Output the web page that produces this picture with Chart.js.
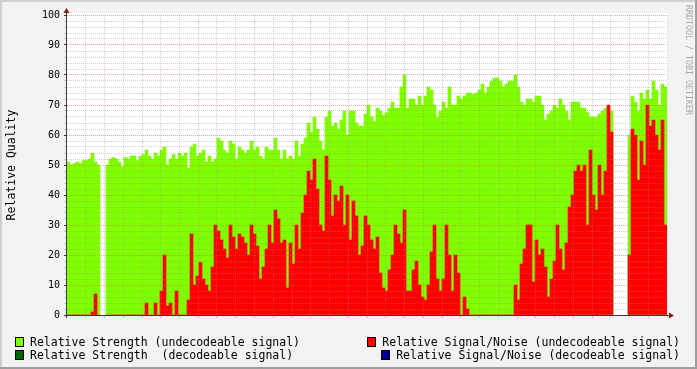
<!DOCTYPE html>
<html>
<head>
<meta charset="utf-8">
<script src="https://cdn.jsdelivr.net/npm/chart.js@4"></script>
<style>
body { margin: 0; background: #fff; }
#wrap { position: relative; width: 697px; height: 369px; }
.lg { position: absolute; font: 11.5px 'DejaVu Sans Mono', monospace; line-height: 14px; white-space: pre; color: #000; display: flex; align-items: center; }
.lg i { display: inline-block; width: 7px; height: 8px; border: 1px solid #000; margin-right: 6px; }
</style>
</head>
<body>
<div id="wrap">
  <canvas id="chart" width="697" height="369"></canvas>
  <div class="lg" style="left:15px;top:335px"><i style="background:#7FFF00"></i>Relative Strength (undecodeable signal)</div>
  <div class="lg" style="left:15px;top:348px"><i style="background:#006600"></i>Relative Strength  (decodeable signal)</div>
  <div class="lg" style="right:17px;top:335px"><i style="background:#FF0000"></i>Relative Signal/Noise (undecodeable signal)</div>
  <div class="lg" style="right:17px;top:348px"><i style="background:#000099"></i>Relative Signal/Noise (decodeable signal)</div>
</div>
<script>
// time axis in hours from Sun 00:00, one sample every 9.6 minutes
const START = 3 + 40 / 60;
const END = 35 + 40 / 60;
const STEP = 0.16;

// Relative Strength (undecodeable signal)
const strength = [
  51, 50, 50.5, 51, 50.5, 51.5, 51.5, 52, 54, 51,
  50, null, null, 50, 52, 52.5, 52, 51, 49.5, 52.5,
  52, 53, 53, 51.5, 53, 53.5, 55, 53, 52, 54,
  53, 55, 56, 50, 52, 53.5, 52, 54, 53, 54,
  49, 56, 57, 53, 54, 55, 51, 53, 51, 52,
  59, 58, 55, 54, 58, 57, 52, 56, 55, 54,
  55, 58, 55, 56, 53, 52, 56, 55, 55, 59,
  55, 52, 55, 52, 53, 52, 58, 53, 57, 59,
  64, 61, 66, 62, 58, 55, 66, 68, 63, 64,
  62, 65, 68, 60, 68, 68, 64, 63, 63, 67,
  70, 66, 64.5, 69, 68, 66.5, 67.5, 69, 71, 69,
  69, 76, 80, 69, 72, 72, 70, 73, 70, 73,
  76, 75, 70, 66, 68, 71, 69, 76, 70, 70,
  73, 72, 73, 74, 74, 73.5, 74, 75, 77, 74,
  76, 78, 79, 79, 78, 76, 77, 78, 78, 80,
  76, 71, 70, 72, 72, 71, 73, 73, 70, 65,
  67, 68, 70, 69, 72, 70, 68, 65, 71, 71,
  71, 69, 69, 67.5, 66, 66, 66, 67, 68, 69,
  68, 68, null, null, null, null, null, 60, 73, 71,
  68, 74, 72, 75, 72, 78, 75, 70, 77, 76
];

// Relative Signal/Noise (undecodeable signal)
const snr = [
  0, 0, 0, 0, 0, 0, 0, 0, 1, 7,
  0, null, null, 0, 0, 0, 0, 0, 0, 0,
  0, 0, 0, 0, 0, 0, 4, 0, 0, 4,
  0, 8, 20, 3, 4, 0, 8, 0, 0, 0,
  5, 27, 10, 13, 17.5, 12, 10, 8, 16, 30,
  28, 25, 22, 19, 30, 26, 22, 27, 26, 24,
  20, 30, 27, 23, 12, 16, 22, 30, 24, 35,
  32, 24, 25, 9, 24, 17, 30, 22, 34, 40,
  48, 45, 52, 42, 30, 28, 53, 45, 33, 40,
  38, 43, 30, 40, 25, 38, 33, 20, 23, 33,
  30, 25, 22, 26, 14, 9, 8, 15, 20, 30,
  27, 24, 35, 8, 8, 15, 18, 10, 6, 5,
  10, 21, 30, 12, 8, 12, 30, 20, 8, 20,
  14, 0, 6, 2, 0, 0, 0, 0, 0, 0,
  0, 0, 0, 0, 0, 0, 0, 0, 0, 10,
  5, 17, 22, 30, 30, 11, 25, 20, 22, 16,
  6, 12, 18, 30, 22, 15, 24, 36, 40, 48,
  50, 48, 50, 30, 55, 40, 35, 50, 40, 48,
  70, 61, null, null, null, null, null, 20, 62, 60,
  45, 58, 50, 70, 63, 65, 60, 55, 65, 30
];

const times = strength.map((_, i) => START + (i + 0.5) * STEP);
const dayNames = ['Sun', 'Mon'];

const MONO = "'DejaVu Sans Mono', monospace";
const GRID = 'rgba(143,143,143,0.4)';
const MGRID = 'rgba(222,79,79,0.5)';

const rrdFrame = {
  id: 'rrdFrame',
  beforeDraw(chart) {
    const {ctx, chartArea: a, width: w, height: h} = chart;
    ctx.save();
    ctx.fillStyle = '#f2f2f2';
    ctx.fillRect(0, 0, w, h);
    ctx.fillStyle = '#cfcfcf';
    ctx.fillRect(0, 0, w, 2);
    ctx.fillRect(0, 0, 2, h);
    ctx.fillStyle = '#9e9e9e';
    ctx.fillRect(0, h - 2, w, 2);
    ctx.fillRect(w - 2, 0, 2, h);
    ctx.fillStyle = '#fff';
    ctx.fillRect(a.left, a.top - 2, a.right - a.left + 1, a.bottom - a.top + 2);
    ctx.restore();
  },
  afterDraw(chart) {
    const {ctx, chartArea: a} = chart;
    ctx.save();
    // axes
    ctx.strokeStyle = '#3a3a3a';
    ctx.lineWidth = 1;
    ctx.beginPath();
    ctx.moveTo(a.left - 0.5, a.top - 2);
    ctx.lineTo(a.left - 0.5, a.bottom + 3);
    ctx.moveTo(a.left - 3, a.bottom + 0.5);
    ctx.lineTo(a.right + 3, a.bottom + 0.5);
    ctx.stroke();
    // arrows
    ctx.fillStyle = '#801f1f';
    ctx.beginPath();
    ctx.moveTo(a.left - 0.5, a.top - 7);
    ctx.lineTo(a.left - 3.5, a.top - 2);
    ctx.lineTo(a.left + 2.5, a.top - 2);
    ctx.fill();
    ctx.beginPath();
    ctx.moveTo(a.right + 7, a.bottom + 0.5);
    ctx.lineTo(a.right + 2, a.bottom - 2.5);
    ctx.lineTo(a.right + 2, a.bottom + 3.5);
    ctx.fill();
    // vertical label
    ctx.fillStyle = '#000';
    ctx.font = '11.5px ' + MONO;
    ctx.textAlign = 'center';
    ctx.textBaseline = 'middle';
    ctx.translate(12, 165);
    ctx.rotate(-Math.PI / 2);
    ctx.fillText('Relative Quality', 0, 0);
    ctx.restore();
    // watermark
    ctx.save();
    ctx.fillStyle = '#a8a8a8';
    ctx.font = '8.3px ' + MONO;
    ctx.textAlign = 'center';
    ctx.textBaseline = 'middle';
    ctx.translate(688, 60);
    ctx.rotate(Math.PI / 2);
    ctx.fillText('RRDTOOL / TOBI OETIKER', 0, 0);
    ctx.restore();
  }
};

new Chart(document.getElementById('chart'), {
  type: 'bar',
  data: {
    datasets: [
      {
        label: 'Relative Signal/Noise (undecodeable signal)',
        data: times.map((t, i) => ({x: t, y: snr[i]})),
        backgroundColor: '#FF0000',
        order: 1
      },
      {
        label: 'Relative Strength (undecodeable signal)',
        data: times.map((t, i) => ({x: t, y: strength[i]})),
        backgroundColor: '#7FFF00',
        order: 2
      }
    ]
  },
  options: {
    responsive: false,
    animation: false,
    grouped: false,
    barPercentage: 1,
    categoryPercentage: 1,
    borderWidth: 0,
    layout: { padding: { left: 0, top: 15, right: 30, bottom: 34 } },
    plugins: { legend: { display: false }, tooltip: { enabled: false } },
    scales: {
      x: {
        type: 'linear',
        min: START,
        max: END,
        offset: false,
        afterFit: s => { s.height = 20; },
        border: { display: false, dash: [1, 1] },
        grid: {
          z: 1,
          offset: false,
          tickLength: 3,
          color: c => c.tick && c.tick.value % 3 === 0 ? MGRID : GRID,
          tickColor: c => c.tick && c.tick.value % 6 === 0 ? '#3a3a3a' : GRID
        },
        ticks: {
          stepSize: 1,
          includeBounds: false,
          autoSkip: false,
          maxRotation: 0,
          maxTicksLimit: 100,
          padding: 2,
          color: '#000',
          font: { family: MONO, size: 10 },
          callback: v => {
            if (v % 6 !== 0) return '';
            const h = v % 24;
            return dayNames[Math.floor(v / 24)] + ' ' + String(h).padStart(2, '0') + ':00';
          }
        }
      },
      y: {
        min: 0,
        max: 100,
        afterFit: s => { s.width = 67; },
        border: { display: false, dash: [1, 1] },
        grid: {
          z: 1,
          tickLength: 3,
          color: c => c.tick && c.tick.value % 10 === 0 ? MGRID : GRID,
          tickColor: c => c.tick && c.tick.value % 10 === 0 ? '#3a3a3a' : GRID
        },
        ticks: {
          stepSize: 2,
          autoSkip: false,
          maxTicksLimit: 100,
          padding: 4,
          color: '#000',
          font: { family: MONO, size: 10 },
          callback: v => v % 10 === 0 ? v : ''
        }
      }
    }
  },
  plugins: [rrdFrame]
});
</script>
</body>
</html>
